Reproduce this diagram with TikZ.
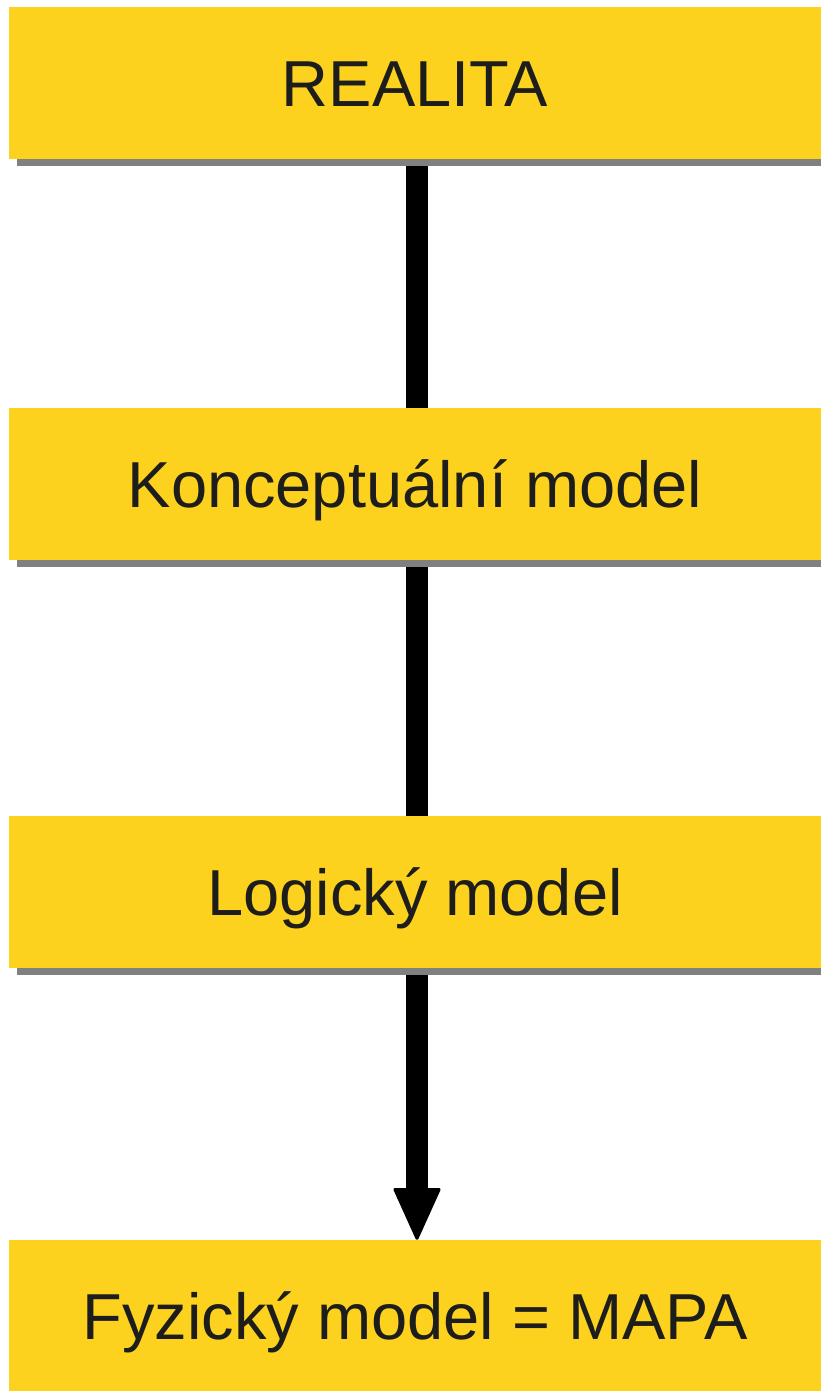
\documentclass[tikz,border=0pt]{standalone}
\usepackage{fontspec}
\setmainfont{Liberation Sans}
\usetikzlibrary{arrows.meta,backgrounds}
\definecolor{boxyellow}{HTML}{FDD21F}
\definecolor{shadowgray}{HTML}{808080}
\definecolor{txt}{HTML}{1D1D1B}
\begin{document}
\begin{tikzpicture}[x=1bp,y=-1bp,
  levelbox/.style={fill=boxyellow, draw=none, minimum width=812bp, minimum height=152bp,
    inner sep=0pt, text height=47bp, text depth=0pt, text=txt,
    font=\fontsize{65bp}{70bp}\selectfont},
  shadowbar/.style={fill=shadowgray},
  flowarrow/.style={line width=22bp, draw=black,
    -{Triangle[width=48bp,length=54bp,line width=3bp,round]}}]
\useasboundingbox (0,0) rectangle (821,1391);
\node[levelbox] (b1) at (415,83) {REALITA};
\node[levelbox] (b2) at (415,483.5) {Konceptuální model};
\node[levelbox] (b3) at (415,891.5) {Logický model};
\node[levelbox] (b4) at (415,1316) {Fyzický model = MAPA};
\foreach \b in {b1,b2,b3}{
  \fill[shadowbar] ([xshift=8bp]\b.south west) rectangle ([yshift=-7bp]\b.south east);
}
\begin{scope}[on background layer]
  \draw[flowarrow] ([xshift=2bp]b1.south) -- ([xshift=2bp]b4.north);
\end{scope}
\end{tikzpicture}
\end{document}
